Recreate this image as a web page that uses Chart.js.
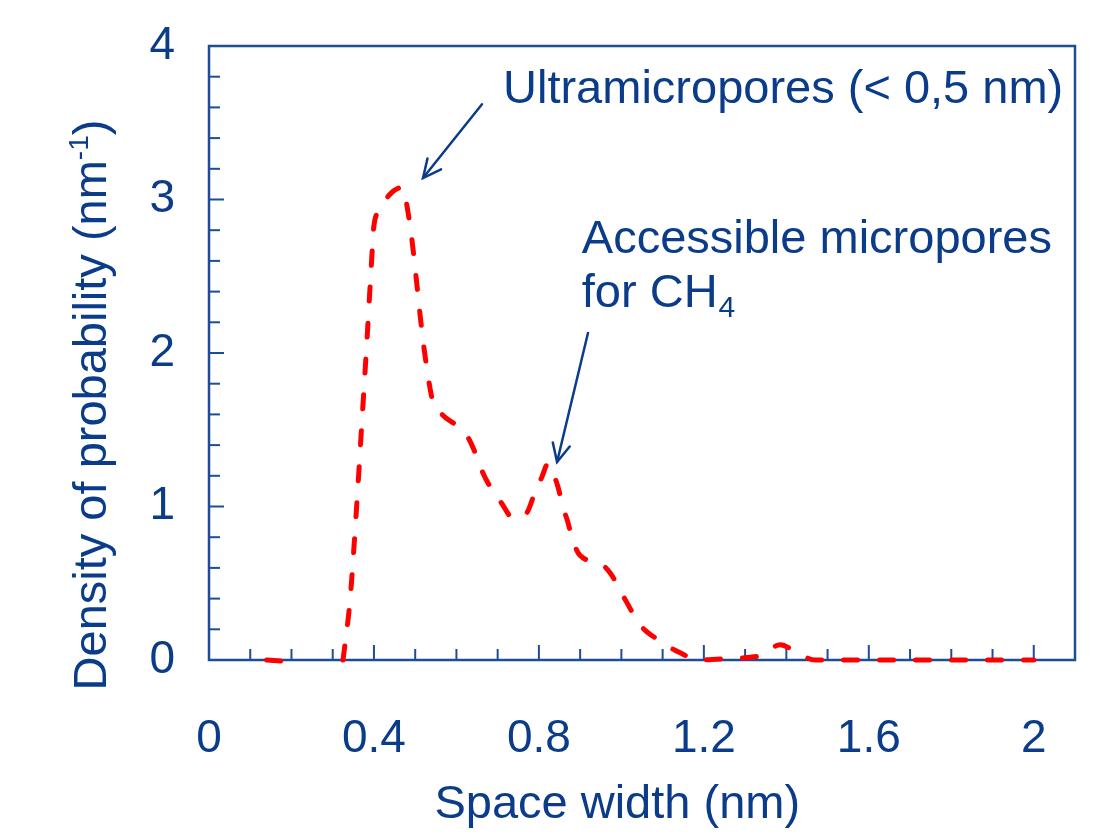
<!DOCTYPE html>
<html>
<head>
<meta charset="utf-8">
<script src="https://cdn.jsdelivr.net/npm/chart.js@4"></script>
<style>
  html, body { margin: 0; padding: 0; background: #ffffff; }
  #wrap { width: 1103px; height: 837px; }
</style>
</head>
<body>
<div id="wrap"><canvas id="c" width="1103" height="837"></canvas></div>
<script>
// ---- data ----
const spaceWidth = [0.14, 0.19, 0.25, 0.325, 0.342, 0.359, 0.371, 0.383, 0.393, 0.40, 0.415, 0.434, 0.47, 0.48, 0.492, 0.502, 0.511, 0.521, 0.543, 0.565, 0.604, 0.628, 0.65, 0.664, 0.686, 0.71, 0.737, 0.771, 0.79, 0.807, 0.822, 0.834, 0.846, 0.858, 0.87, 0.882, 0.90, 0.948, 0.972, 1.01, 1.045, 1.09, 1.14, 1.19, 1.26, 1.34, 1.385, 1.43, 1.47, 1.55, 2.0];
const density    = [0.0, -0.01, null, 0.0, 0.39, 1.04, 1.56, 2.08, 2.54, 2.83, 2.93, 3.02, 3.08, 2.96, 2.74, 2.5, 2.27, 2.04, 1.68, 1.6, 1.52, 1.45, 1.32, 1.22, 1.11, 1.02, 0.925, 0.96, 1.09, 1.19, 1.28, 1.22, 1.13, 1.0, 0.9, 0.78, 0.68, 0.63, 0.57, 0.39, 0.23, 0.13, 0.05, 0.0, 0.01, 0.03, 0.1, 0.04, 0.0, 0.0, 0.0];
const xTickValues = [0, 0.4, 0.8, 1.2, 1.6, 2];
const xTickLabels = ['0', '0.4', '0.8', '1.2', '1.6', '2'];
const yTickValues = [0, 1, 2, 3, 4];
const yTickLabels = ['0', '1', '2', '3', '4'];
const xTitle = 'Space width (nm)';
const yTitle = 'Density of probability (nm';
const yTitleSup = '-1';
const note1 = 'Ultramicropores (< 0,5 nm)';
const note2a = 'Accessible micropores';
const note2b = 'for CH';
const note2sub = '4';

const BLUE = '#0b3c8a';
const AXIS = '#1d4d95';
const FONT = '"Liberation Sans", Arial, sans-serif';

const points = spaceWidth.map((x, i) => ({ x: x, y: density[i] }));

function arrow(ctx, x0, y0, x1, y1) {
  ctx.beginPath();
  ctx.moveTo(x0, y0);
  ctx.lineTo(x1, y1);
  ctx.stroke();
  const a = Math.atan2(y1 - y0, x1 - x0);
  const L = 20, sp = 0.45;
  ctx.beginPath();
  ctx.moveTo(x1 - L * Math.cos(a - sp), y1 - L * Math.sin(a - sp));
  ctx.lineTo(x1, y1);
  ctx.lineTo(x1 - L * Math.cos(a + sp), y1 - L * Math.sin(a + sp));
  ctx.stroke();
}

const framePlugin = {
  id: 'frame',
  beforeDatasetsDraw(chart) {
    const { ctx, chartArea: a, scales } = chart;
    const xs = scales.x, ys = scales.y;
    ctx.save();
    ctx.strokeStyle = AXIS;
    ctx.lineWidth = 2.5;
    ctx.strokeRect(a.left, a.top, a.right - a.left, a.bottom - a.top);
    ctx.lineWidth = 2;
    for (let k = 1; k <= 20; k++) {
      const v = k / 10;
      const px = xs.getPixelForValue(v);
      const major = k % 4 === 0;
      ctx.beginPath();
      ctx.moveTo(px, a.bottom);
      ctx.lineTo(px, a.bottom - (major ? 15 : 11));
      ctx.stroke();
    }
    for (let k = 1; k <= 19; k++) {
      const v = k / 5;
      const py = ys.getPixelForValue(v);
      const major = k % 5 === 0;
      ctx.beginPath();
      ctx.moveTo(a.left, py);
      ctx.lineTo(a.left + (major ? 15 : 11), py);
      ctx.stroke();
    }
    ctx.restore();
  },
  afterDraw(chart) {
    const { ctx, scales } = chart;
    const xs = scales.x, ys = scales.y;
    const X = v => xs.getPixelForValue(v);
    const Y = v => ys.getPixelForValue(v);
    ctx.save();
    ctx.fillStyle = BLUE;
    ctx.strokeStyle = BLUE;
    ctx.textBaseline = 'alphabetic';
    ctx.font = '47px ' + FONT;
    ctx.textAlign = 'center';
    ctx.fillText(xTitle, X(0.99), 818);
    ctx.save();
    ctx.translate(106, 405);
    ctx.rotate(-Math.PI / 2);
    ctx.textAlign = 'left';
    ctx.font = '47px ' + FONT;
    const w1 = ctx.measureText(yTitle).width;
    const w3 = ctx.measureText(')').width;
    ctx.font = '28px ' + FONT;
    const w2 = ctx.measureText(yTitleSup).width;
    let sx = -(w1 + w2 + w3) / 2;
    ctx.font = '47px ' + FONT;
    ctx.fillText(yTitle, sx, 0);
    ctx.font = '28px ' + FONT;
    ctx.fillText(yTitleSup, sx + w1, -18);
    ctx.font = '47px ' + FONT;
    ctx.fillText(')', sx + w1 + w2, 0);
    ctx.restore();
    ctx.font = '47px ' + FONT;
    ctx.textAlign = 'left';
    ctx.fillText(note1, X(0.713), Y(3.63));
    ctx.fillText(note2a, X(0.904), Y(2.65));
    ctx.fillText(note2b, X(0.904), Y(2.30));
    const wb = ctx.measureText(note2b).width;
    ctx.font = '30px ' + FONT;
    ctx.fillText(note2sub, X(0.904) + wb + 1, Y(2.30) + 10);
    ctx.lineWidth = 2.5;
    ctx.lineCap = 'round';
    arrow(ctx, X(0.662), Y(3.62), X(0.519), Y(3.14));
    arrow(ctx, X(0.919), Y(2.13), X(0.844), Y(1.29));
    ctx.restore();
  }
};

new Chart(document.getElementById('c'), {
  type: 'line',
  data: {
    datasets: [{
      data: points,
      borderColor: '#ff0000',
      borderWidth: 5,
      borderDash: [14, 22],
      borderCapStyle: 'round',
      borderJoinStyle: 'round',
      pointRadius: 0,
      fill: false,
      spanGaps: false,
      cubicInterpolationMode: 'monotone',
      clip: 10
    }]
  },
  options: {
    responsive: false,
    animation: false,
    devicePixelRatio: 1,
    layout: { padding: { top: 46, right: 28, left: 0, bottom: 0 } },
    plugins: { legend: { display: false }, tooltip: { enabled: false }, title: { display: false } },
    scales: {
      x: {
        type: 'linear', min: 0, max: 2.1,
        grid: { display: false, drawTicks: false },
        border: { display: false },
        afterBuildTicks: s => { s.ticks = xTickValues.map(v => ({ value: v })); },
        afterFit: s => { s.height = 177; s.paddingLeft = 0; s.paddingRight = 0; },
        ticks: {
          autoSkip: false, maxRotation: 0, padding: 52,
          color: BLUE, font: { family: FONT, size: 46 },
          callback: (v, i) => xTickLabels[i]
        }
      },
      y: {
        type: 'linear', min: 0, max: 4,
        grid: { display: false, drawTicks: false },
        border: { display: false },
        afterBuildTicks: s => { s.ticks = yTickValues.map(v => ({ value: v })); },
        afterFit: s => { s.width = 209; s.paddingTop = 0; s.paddingBottom = 0; },
        ticks: {
          autoSkip: false, padding: 34,
          color: BLUE, font: { family: FONT, size: 46 },
          callback: (v, i) => yTickLabels[i]
        }
      }
    }
  },
  plugins: [framePlugin]
});
</script>
</body>
</html>
